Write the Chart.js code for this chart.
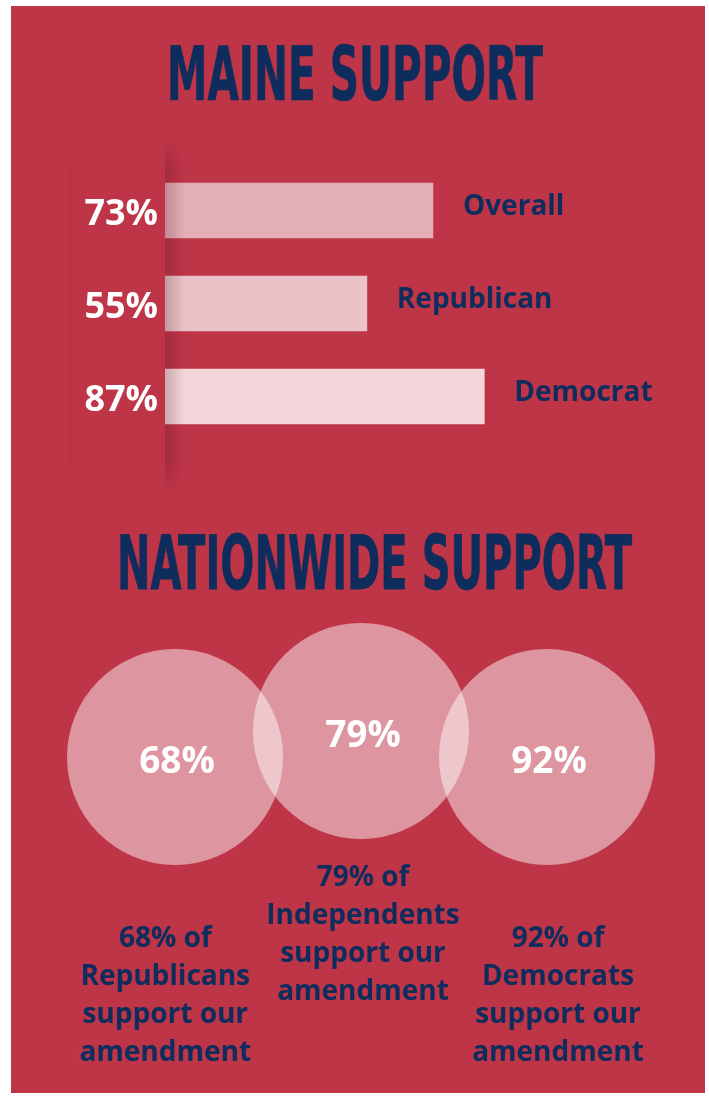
<!DOCTYPE html>
<html>
<head>
<meta charset="utf-8">
<script src="https://cdn.jsdelivr.net/npm/chart.js@4/dist/chart.umd.min.js"></script>
<style>
  html, body { margin: 0; padding: 0; background: #fff; }
  body { width: 709px; height: 1097px; position: relative; overflow: hidden; }
  .panel { position: absolute; left: 11px; top: 6px; width: 694px; height: 1087px; background: #BF3548; }
  .title {
    position: absolute; white-space: nowrap; color: #0E2D5D;
    font-family: "Liberation Sans Narrow", "DejaVu Sans Condensed", "Liberation Sans", sans-serif;
    font-stretch: condensed; font-weight: 700; line-height: 1;
    -webkit-text-stroke: 1px #0E2D5D; transform-origin: 0 0;
  }
  .note {
    position: absolute; width: 260px; text-align: center; color: #0E2D5D;
    font-family: "Open Sans", sans-serif; font-weight: 700; font-size: 28px; line-height: 38px;
  }
  #barWrap { position: absolute; left: 0; top: 130px; width: 709px; height: 370px; }
  #bubbleWrap { position: absolute; left: 0; top: 600px; width: 709px; height: 290px; }
</style>
</head>
<body>
<div class="panel"></div>
<div class="title" id="t1" data-left="167" data-top="47" data-w="376" data-cap="54">MAINE SUPPORT</div>
<div class="title" id="t2" data-left="117" data-top="535" data-w="515" data-cap="55">NATIONWIDE SUPPORT</div>

<div id="barWrap"><canvas id="bars"></canvas></div>
<div id="bubbleWrap"><canvas id="bubbles"></canvas></div>

<div class="note" id="n0" style="left:35px; top:917px;"></div>
<div class="note" id="n1" style="left:233px; top:856px;"></div>
<div class="note" id="n2" style="left:428px; top:917px;"></div>

<script>
// Maine support
const maineGroups = ['Overall', 'Republican', 'Democrat'];
const maineValues = [73, 55, 87];
const maineColors = ['#E4AEB7', '#E9C3C8', '#F2D6DA'];

// Nationwide support
const nationGroups = ['Republicans', 'Independents', 'Democrats'];
const nationValues = [68, 79, 92];

const navy = '#0E2D5D';

// fit the condensed titles to their width and cap height
document.querySelectorAll('.title').forEach(el => {
  const size = 100;
  el.style.fontSize = size + 'px';
  const w = el.offsetWidth;
  const cap = 0.729 * size;
  const sx = el.dataset.w / w;
  const sy = el.dataset.cap / cap;
  el.style.transform = `scale(${sx}, ${sy})`;
  el.style.left = el.dataset.left + 'px';
  el.style.top = (el.dataset.top - 0.1175 * size * sy) + 'px';
});

nationGroups.forEach((g, i) => {
  document.getElementById('n' + i).innerHTML =
    `${nationValues[i]}% of<br>${g}<br>support our<br>amendment`;
});

Chart.defaults.font.family = '"Open Sans", sans-serif';
Chart.defaults.font.weight = 'bold';

const barLabels = {
  id: 'barLabels',
  afterDatasetsDraw(chart) {
    const ctx = chart.ctx;
    const area = chart.chartArea;
    // soft shadow along the left edge, fading at top and bottom
    ctx.save();
    const top = 6, bottom = 362, fade = 30;
    for (let y = top; y < bottom; y += 2) {
      let k = 1;
      if (y - top < fade) k = (y - top) / fade;
      if (bottom - y < fade) k = (bottom - y) / fade;
      const g = ctx.createLinearGradient(area.left, 0, area.left + 20, 0);
      g.addColorStop(0, `rgba(70,10,25,${0.22 * k})`);
      g.addColorStop(1, 'rgba(70,10,25,0)');
      ctx.fillStyle = g;
      ctx.fillRect(area.left, y, 20, 2);
      ctx.fillStyle = `rgba(70,10,25,${0.02 * k})`;
      ctx.fillRect(68, y, 11, 2);
    }
    ctx.restore();

    const meta = chart.getDatasetMeta(0);
    ctx.save();
    meta.data.forEach((bar, i) => {
      ctx.fillStyle = '#fff';
      ctx.font = 'bold 36px "Open Sans", sans-serif';
      ctx.textAlign = 'right';
      ctx.textBaseline = 'alphabetic';
      ctx.fillText(maineValues[i] + '%', area.left - 7, bar.y + 14);
      ctx.fillStyle = navy;
      ctx.font = 'bold 28px "Open Sans", sans-serif';
      ctx.textAlign = 'left';
      ctx.fillText(maineGroups[i], bar.x + 30, bar.y + 4);
    });
    ctx.restore();
  }
};

new Chart(document.getElementById('bars'), {
  type: 'bar',
  data: {
    labels: maineGroups,
    datasets: [{
      data: maineValues,
      backgroundColor: maineColors,
      borderWidth: 0,
      barThickness: 55
    }]
  },
  options: {
    indexAxis: 'y',
    responsive: true,
    maintainAspectRatio: false,
    animation: false,
    events: [],
    layout: { padding: { left: 165, right: 177, top: 34, bottom: 57 } },
    plugins: { legend: { display: false }, tooltip: { enabled: false } },
    scales: {
      x: { display: false, min: 0, max: 100 },
      y: { display: false }
    }
  },
  plugins: [barLabels]
});

const bubbleLabels = {
  id: 'bubbleLabels',
  afterDatasetsDraw(chart) {
    const ctx = chart.ctx;
    const meta = chart.getDatasetMeta(0);
    ctx.save();
    ctx.fillStyle = '#fff';
    ctx.font = 'bold 37px "Open Sans", sans-serif';
    ctx.textAlign = 'center';
    ctx.textBaseline = 'alphabetic';
    meta.data.forEach((pt, i) => {
      ctx.fillText(nationValues[i] + '%', pt.x + 2, pt.y + 16);
    });
    ctx.restore();
  }
};

new Chart(document.getElementById('bubbles'), {
  type: 'bubble',
  data: {
    labels: nationGroups,
    datasets: [{
      data: nationGroups.map((g, i) => ({ x: g, y: i === 1 ? 1 : 0, r: 108 })),
      backgroundColor: 'rgba(255,255,255,0.48)',
      borderWidth: 0,
      hoverRadius: 0,
      clip: false
    }]
  },
  options: {
    responsive: true,
    maintainAspectRatio: false,
    animation: false,
    events: [],
    layout: { padding: { left: 175, right: 162, top: 131, bottom: 133 } },
    plugins: { legend: { display: false }, tooltip: { enabled: false } },
    scales: {
      x: { type: 'category', display: false, offset: false },
      y: { display: false, min: 0, max: 1 }
    }
  },
  plugins: [bubbleLabels]
});
</script>
</body>
</html>
